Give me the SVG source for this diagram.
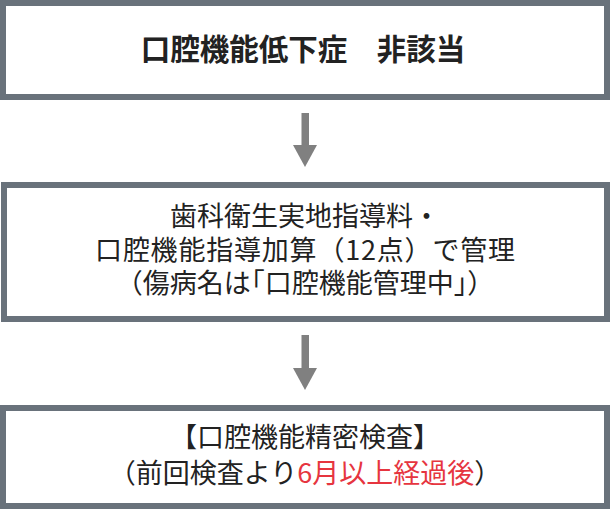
<svg xmlns="http://www.w3.org/2000/svg" width="610" height="509" viewBox="0 0 610 509">
<style>
.box{fill:#fff;stroke:#69727b;stroke-width:6}
.t{font-family:"Noto Sans CJK JP","Noto Sans",sans-serif;fill:#222;text-anchor:middle}
.b{font-weight:bold;font-size:29.5px}
.r{font-size:27px}
.red{fill:#e6353f}
.arr{fill:#808080}
</style>
<rect width="610" height="509" fill="#fff"/>
<g id="connectors">
<rect class="arr" x="301.5" y="113" width="7.5" height="33"/>
<polygon class="arr" points="293,145 317,145 305,167"/>
<rect class="arr" x="301.5" y="335" width="7.5" height="34"/>
<polygon class="arr" points="293,368 317,368 305,390"/>
</g>
<g id="node1">
<rect class="box" x="3" y="3" width="604" height="94"/>
<text class="t b" x="303" y="60">口腔機能低下症　非該当</text>
</g>
<g id="node2">
<rect class="box" x="4" y="185" width="603" height="134"/>
<text class="t r" x="305" y="226">歯科衛生実地指導料・</text>
<text class="t r" x="305" y="260" textLength="420" lengthAdjust="spacing">口腔機能指導加算（12点）で管理</text>
<text class="t r" x="305" y="293">（傷病名は<tspan dx="-13">「</tspan>口腔機能管理中」）</text>
</g>
<g id="node3">
<rect class="box" x="3" y="408" width="604" height="98"/>
<text class="t r" x="305" y="447">【口腔機能精密検査】</text>
<text class="t r" x="305" y="483">（前回検査より<tspan class="red">6月以上経過後</tspan>）</text>
</g>
</svg>
